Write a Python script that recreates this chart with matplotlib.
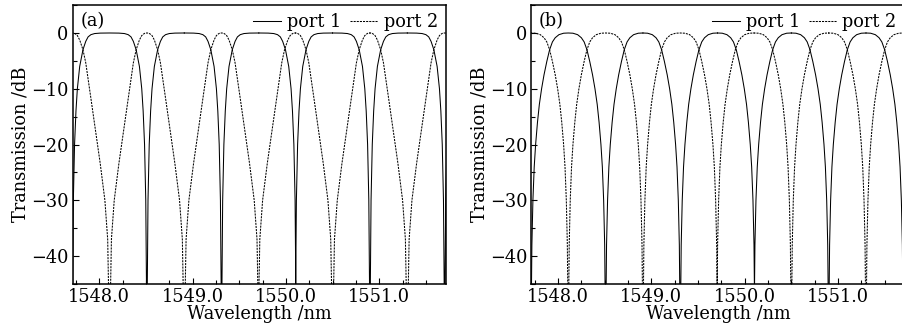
import matplotlib
matplotlib.use("Agg")
import matplotlib.pyplot as plt
from matplotlib.ticker import MultipleLocator
import numpy as np

plt.rcParams['font.family'] = ['DejaVu Serif']
plt.rcParams['font.size'] = 12.8

# notch wavelengths (nm), same in both panels
port1_notches = [1547.71, 1548.51, 1549.31, 1550.10, 1550.90, 1551.70]
port2_notches = [1547.31, 1548.11, 1548.91, 1549.70, 1550.50, 1551.30]
period = 0.8

# half-period profiles: offset from the notch (nm) -> transmission (dB)
# panel (a), port 1: wide flat top
a1_off = [0, 0.003, 0.012, 0.025, 0.04, 0.055, 0.08, 0.115, 0.145, 0.17, 0.2, 0.24, 0.3, 0.4]
a1_db = [-80, -48, -30, -20, -14, -10, -6, -3, -1.5, -0.7, -0.3, -0.1, -0.02, 0]
# panel (a), port 2: narrow peak
a2_off = [0, 0.004, 0.02, 0.05, 0.10, 0.16, 0.20, 0.23, 0.255, 0.285, 0.32, 0.345, 0.365, 0.38, 0.4]
a2_db = [-80, -52, -37, -30, -23.4, -16.4, -11.7, -8.3, -5.35, -3.0, -1.25, -0.46, -0.18, -0.02, 0]
# panel (b), both ports: flat top
b_off = [0, 0.003, 0.01, 0.021, 0.035, 0.05, 0.07, 0.09, 0.114, 0.14, 0.17, 0.2, 0.23, 0.26, 0.3, 0.35, 0.4]
b_db = [-80, -50, -38, -30, -24, -20, -16, -12.8, -10, -7.5, -5.1, -3.0, -1.6, -0.85, -0.3, -0.04, 0]

xlim = (1547.715, 1551.715)
ylim = (-45, 5)


def curve(notches, off, db):
    off = np.array(off)
    db = np.array(db)
    xs, ys = [], []
    for n in notches:
        xs += list(n + off) + list(n + period - off[::-1])
        ys += list(db) + list(db[::-1])
    return xs, ys


def panel(ax, tag, prof1, prof2):
    x1, y1 = curve(port1_notches, *prof1)
    x2, y2 = curve(port2_notches, *prof2)
    ax.plot(x1, y1, color='black', lw=0.75, label='port 1')
    ax.plot(x2, y2, color='black', lw=0.75, ls=(0, (2, 1)), label='port 2')
    ax.set_xlim(*xlim)
    ax.set_ylim(*ylim)
    ax.xaxis.set_major_locator(MultipleLocator(1.0))
    ax.xaxis.set_minor_locator(MultipleLocator(0.25))
    ax.yaxis.set_major_locator(MultipleLocator(10))
    ax.yaxis.set_minor_locator(MultipleLocator(5))
    ax.xaxis.set_major_formatter(lambda v, p: f"{v:.1f}")
    ax.tick_params(which='both', direction='in', top=False, right=False)
    ax.tick_params(which='major', length=4.3, width=0.8, pad=3)
    ax.tick_params(which='minor', length=2.9, width=0.8)
    for s in ax.spines.values():
        s.set_linewidth(1.1)
    ax.set_xlabel('Wavelength /nm', labelpad=-1)
    ax.set_ylabel('Transmission /dB', labelpad=1)
    ax.text(0.02, 0.975, tag, transform=ax.transAxes, ha='left', va='top')
    ax.legend(loc='upper right', ncol=2, frameon=False, handlelength=1.6,
              handletextpad=0.3, columnspacing=0.5, borderaxespad=0.25,
              borderpad=0.2)


fig = plt.figure(figsize=(9.03, 3.36), dpi=100)
ax_a = fig.add_axes([0.0805, 0.1548, 0.4134, 0.830])
ax_b = fig.add_axes([0.5885, 0.1548, 0.4134, 0.830])

panel(ax_a, '(a)', (a1_off, a1_db), (a2_off, a2_db))
panel(ax_b, '(b)', (b_off, b_db), (b_off, b_db))

fig.savefig('out.png', dpi=100)
